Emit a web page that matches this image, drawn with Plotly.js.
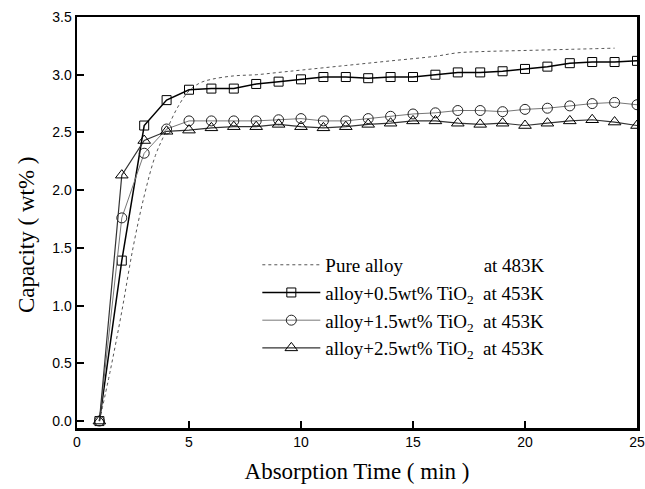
<!DOCTYPE html>
<html>
<head>
<meta charset="utf-8">
<script src="https://cdn.plot.ly/plotly-3.0.1.min.js"></script>
<style>html,body{margin:0;padding:0;background:#fff;}#chart{width:645px;height:489px;}</style>
</head>
<body>
<div id="chart"></div>
<script>
// Pure alloy at 483K (smooth curve)
const pureX = [1, 1.5, 2, 2.5, 3, 3.5, 4, 4.5, 5, 5.5, 6, 7, 8, 9, 10, 12, 14, 16, 17, 18, 20, 22, 24];
const pureY = [0, 0.45, 0.95, 1.5, 1.95, 2.3, 2.52, 2.72, 2.86, 2.93, 2.96, 2.99, 3.00, 3.02, 3.04, 3.08, 3.12, 3.16, 3.19, 3.20, 3.21, 3.22, 3.23];

// Sample times (min) for the TiO2 series
const timeX = [1,2,3,4,5,6,7,8,9,10,11,12,13,14,15,16,17,18,19,20,21,22,23,24,25];
const tio05 = [0,1.39,2.56,2.78,2.87,2.88,2.88,2.92,2.94,2.96,2.98,2.98,2.97,2.98,2.98,3.00,3.02,3.02,3.03,3.05,3.07,3.10,3.11,3.11,3.12];
const tio15 = [0,1.76,2.32,2.53,2.60,2.60,2.60,2.60,2.61,2.62,2.60,2.60,2.62,2.64,2.66,2.67,2.69,2.69,2.68,2.70,2.71,2.73,2.75,2.76,2.74];
const tio25 = [0,2.13,2.43,2.51,2.52,2.54,2.55,2.55,2.57,2.55,2.54,2.55,2.57,2.58,2.60,2.60,2.58,2.57,2.58,2.56,2.58,2.60,2.61,2.59,2.56];

const nb = n => '\u00A0'.repeat(n);
const names = [
  'Pure alloy' + nb(17) + 'at 483K',
  'alloy+0.5wt% TiO<sub>2</sub>' + nb(2) + 'at 453K',
  'alloy+1.5wt% TiO<sub>2</sub>' + nb(2) + 'at 453K',
  'alloy+2.5wt% TiO<sub>2</sub>' + nb(2) + 'at 453K'
];
const xTitle = 'Absorption Time ( min )';
const yTitle = 'Capacity ( wt% )';

const serif = 'Liberation Serif, Times New Roman, serif';
const sans = 'Liberation Sans, Arial, sans-serif';

const traces = [
  {x: pureX, y: pureY, name: names[0], mode: 'lines', line: {color: '#555', width: 1, dash: 'dot', shape: 'spline'}},
  {x: timeX, y: tio05, name: names[1], mode: 'lines+markers', line: {color: '#000', width: 1.5},
   marker: {symbol: 'square-open', size: 9, color: '#000', line: {width: 1}}},
  {x: timeX, y: tio15, name: names[2], mode: 'lines+markers', line: {color: '#777', width: 1},
   marker: {symbol: 'circle-open', size: 10, color: '#222', line: {width: 1}}},
  {x: timeX, y: tio25, name: names[3], mode: 'lines+markers', line: {color: '#333', width: 1.2},
   marker: {symbol: 'triangle-up-open', size: 11, color: '#000', line: {width: 1}}}
];

const layout = {
  width: 645, height: 489,
  margin: {l: 77, r: 8, t: 17, b: 61},
  paper_bgcolor: '#fff', plot_bgcolor: '#fff',
  showlegend: true,
  legend: {x: 0.322, y: 0.443, xanchor: 'left', yanchor: 'top', bgcolor: 'rgba(0,0,0,0)',
    font: {family: serif, size: 19, color: '#000'},
    tracegroupgap: 0, itemwidth: 58},
  annotations: [
    {text: yTitle, xref: 'paper', yref: 'paper', x: -0.089, y: 0.47, xanchor: 'center', yanchor: 'middle',
     textangle: -90, showarrow: false, font: {family: serif, size: 23, color: '#000'}}
  ],
  xaxis: {
    range: [0, 25], dtick: 5, tick0: 0, showgrid: false, zeroline: false,
    ticks: 'inside', ticklen: 7, tickwidth: 2, tickcolor: '#000',
    showline: true, linewidth: 2.5, linecolor: '#000', mirror: true,
    tickfont: {family: sans, size: 14, color: '#000'},
    title: {text: xTitle, standoff: 14, font: {family: serif, size: 23, color: '#000'}}
  },
  yaxis: {
    range: [-0.06, 3.5], dtick: 0.5, tick0: 0, tickformat: '.1f', showgrid: false, zeroline: false,
    ticks: 'inside', ticklen: 7, tickwidth: 2, tickcolor: '#000',
    showline: true, linewidth: 2.5, linecolor: '#000', mirror: true,
    tickfont: {family: sans, size: 14, color: '#000'}
  }
};

Plotly.newPlot('chart', traces, layout, {displayModeBar: false, staticPlot: true});
</script>
</body>
</html>
